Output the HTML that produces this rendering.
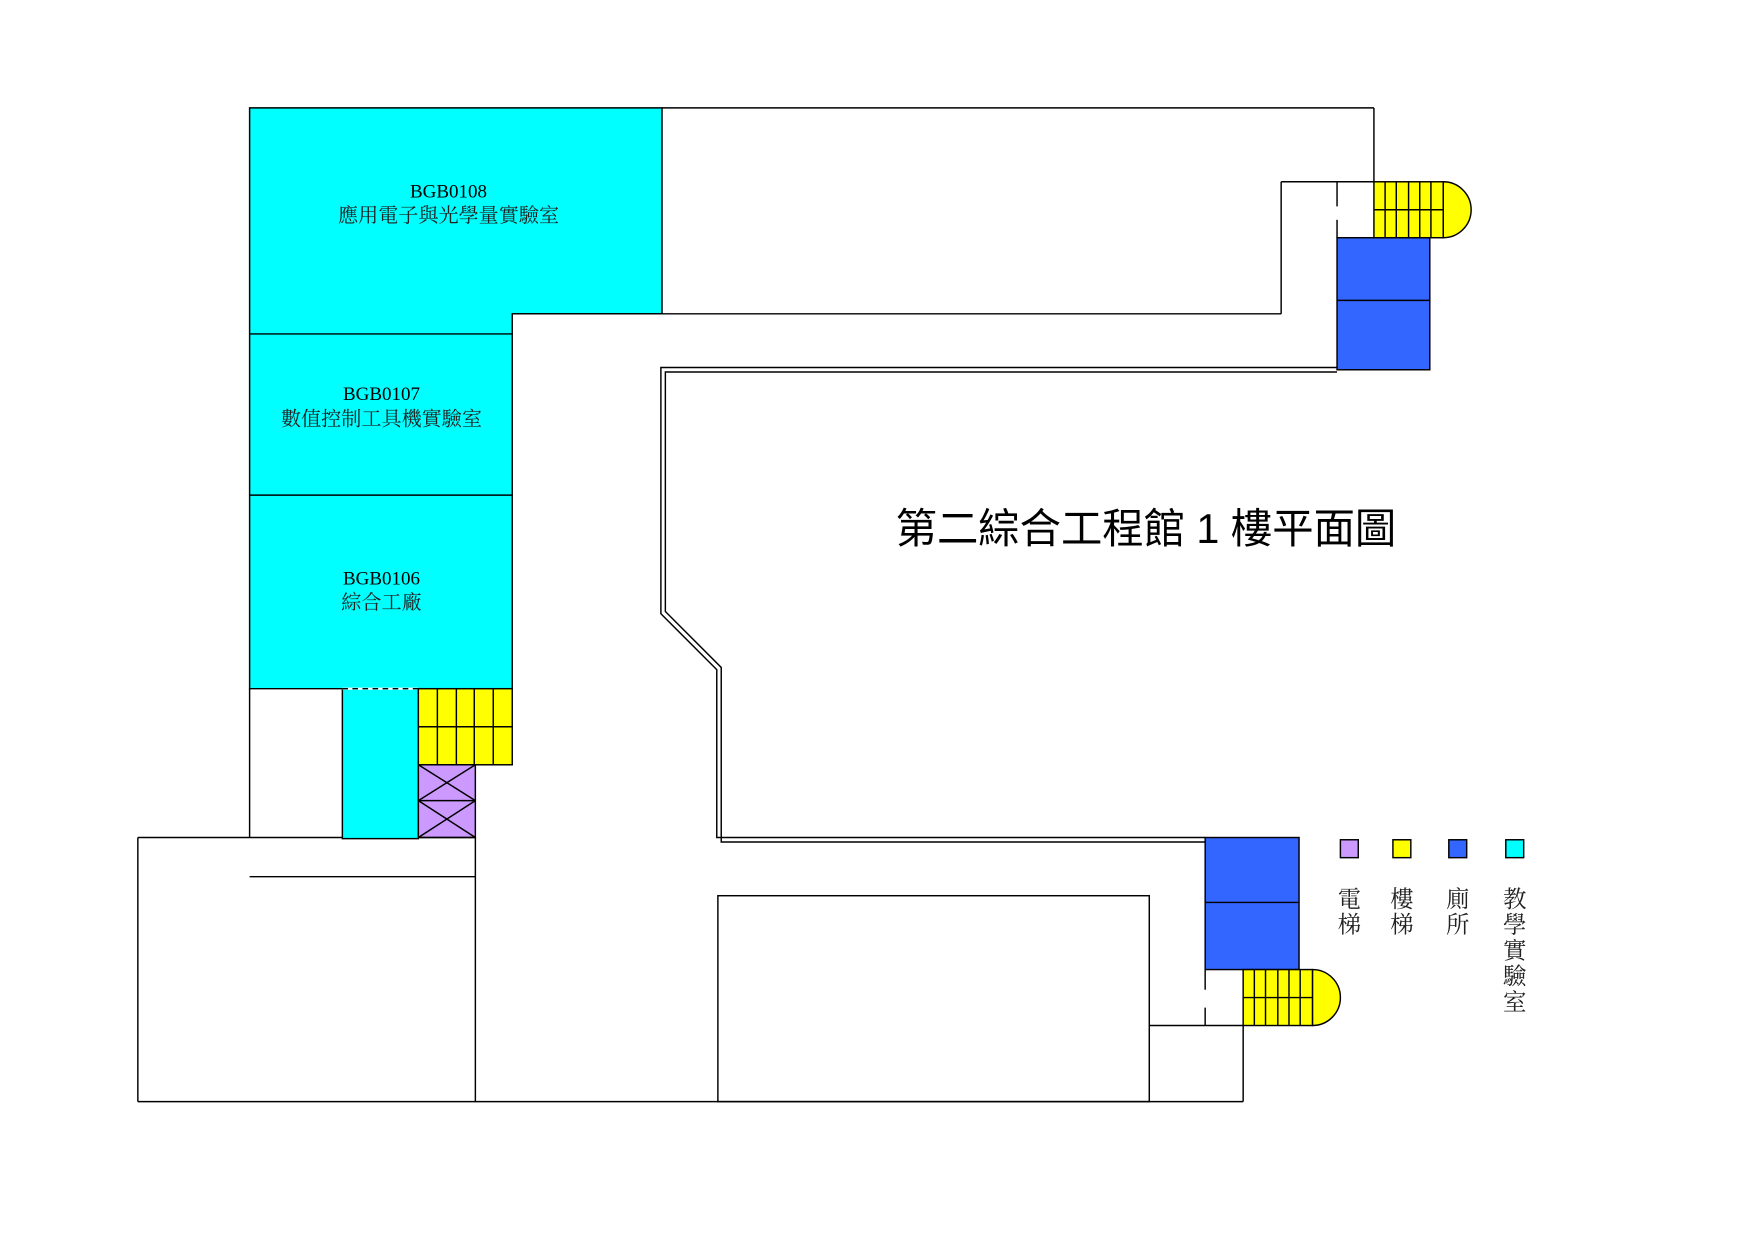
<!DOCTYPE html>
<html><head><meta charset="utf-8"><style>
html,body{margin:0;padding:0;background:#fff;}
svg{display:block;}
</style></head><body>
<svg width="1754" height="1241" viewBox="0 0 1560 1104" preserveAspectRatio="none" xmlns="http://www.w3.org/2000/svg">
<g transform="translate(1.33,0.43) scale(0.994,0.9955)">
<g stroke="#000" stroke-width="1.3" fill="none">
<path d="M222 96 H591 V280 H457 V615 H222 Z" fill="#00ffff"/>
<line x1="222" y1="298" x2="457" y2="298"/>
<line x1="222" y1="442" x2="457" y2="442"/>
<line x1="591" y1="96" x2="1228" y2="96"/>
<line x1="1228" y1="96" x2="1228" y2="162"/>
<line x1="1145" y1="162" x2="1228" y2="162"/>
<line x1="1145" y1="162" x2="1145" y2="280"/>
<line x1="457" y1="280" x2="1145" y2="280"/>
<path d="M1195 328 H590 V548 L640 598 V748 H1077" />
<path d="M1195 332 H594 V546 L644 596 V752 H1077" />
<line x1="1195" y1="162" x2="1195" y2="184"/>
<line x1="1195" y1="196" x2="1195" y2="212"/>
<rect x="1195" y="212" width="83" height="118" fill="#3366ff"/>
<line x1="1195" y1="268" x2="1278" y2="268"/>
<path d="M1290 162 A25 25 0 0 1 1290 212 Z" fill="#ffff00"/>
<rect x="1228" y="162" width="62" height="50" fill="#ffff00"/>
<line x1="1228" y1="187" x2="1290" y2="187"/>
<line x1="1238" y1="162" x2="1238" y2="212"/>
<line x1="1248" y1="162" x2="1248" y2="212"/>
<line x1="1259" y1="162" x2="1259" y2="212"/>
<line x1="1269" y1="162" x2="1269" y2="212"/>
<line x1="1279" y1="162" x2="1279" y2="212"/>
<line x1="222" y1="615" x2="222" y2="748"/>
<rect x="305" y="615" width="68" height="134" fill="#00ffff"/>
<line x1="305" y1="615" x2="373" y2="615" stroke="#fff" stroke-width="2"/>
<line x1="305" y1="615" x2="373" y2="615" stroke-dasharray="5,4"/>
<rect x="373" y="615" width="84" height="68" fill="#ffff00"/>
<line x1="373" y1="649" x2="457" y2="649"/>
<line x1="390" y1="615" x2="390" y2="683"/>
<line x1="407" y1="615" x2="407" y2="683"/>
<line x1="423" y1="615" x2="423" y2="683"/>
<line x1="440" y1="615" x2="440" y2="683"/>
<rect x="373" y="683" width="51" height="65" fill="#cc99ff"/>
<line x1="373" y1="715" x2="424" y2="715"/>
<path d="M373 683 L424 715 M424 683 L373 715 M373 715 L424 748 M424 715 L373 748"/>
<line x1="122" y1="748" x2="305" y2="748"/>
<line x1="373" y1="748" x2="424" y2="748"/>
<line x1="122" y1="748" x2="122" y2="984"/>
<line x1="222" y1="783" x2="424" y2="783"/>
<line x1="424" y1="748" x2="424" y2="984"/>
<line x1="122" y1="984" x2="1111" y2="984"/>
<rect x="641" y="800" width="386" height="184"/>
<rect x="1077" y="748" width="84" height="118" fill="#3366ff"/>
<line x1="1077" y1="806" x2="1161" y2="806"/>
<line x1="1077" y1="866" x2="1077" y2="884"/>
<line x1="1077" y1="900" x2="1077" y2="916"/>
<line x1="1027" y1="916" x2="1111" y2="916"/>
<line x1="1111" y1="916" x2="1111" y2="984"/>
<path d="M1173 866 A25 25 0 0 1 1173 916 Z" fill="#ffff00"/>
<rect x="1111" y="866" width="62" height="50" fill="#ffff00"/>
<line x1="1111" y1="891" x2="1173" y2="891"/>
<line x1="1121" y1="866" x2="1121" y2="916"/>
<line x1="1131" y1="866" x2="1131" y2="916"/>
<line x1="1142" y1="866" x2="1142" y2="916"/>
<line x1="1152" y1="866" x2="1152" y2="916"/>
<line x1="1162" y1="866" x2="1162" y2="916"/>
<rect x="1198" y="750" width="16" height="16" fill="#cc99ff"/>
<rect x="1245" y="750" width="16" height="16" fill="#ffff00"/>
<rect x="1295" y="750" width="16" height="16" fill="#3366ff"/>
<rect x="1346" y="750" width="16" height="16" fill="#00ffff"/>
</g>
<g font-family="Liberation Serif, Noto Serif CJK SC, serif" font-size="17" text-anchor="middle" fill="#000">
<text x="400" y="176">BGB0108</text>
<text x="400" y="198" font-family="Noto Serif CJK SC, serif" font-size="18" fill="#222">應用電子與光學量實驗室</text>
<text x="340" y="357">BGB0107</text>
<text x="340" y="380" font-family="Noto Serif CJK SC, serif" font-size="18" fill="#222">數值控制工具機實驗室</text>
<text x="340" y="522">BGB0106</text>
<text x="340" y="544" font-family="Noto Serif CJK SC, serif" font-size="18" fill="#222">綜合工廠</text>
</g>
<text x="1024" y="485" font-family="Liberation Sans, Noto Sans CJK TC, sans-serif" font-size="37" text-anchor="middle" fill="#000">第二綜合工程館 1 樓平面圖</text>
<g font-family="Noto Serif CJK SC, serif" font-size="21" fill="#222" text-anchor="middle">
<text x="1206" y="810">電</text><text x="1206" y="833">梯</text>
<text x="1253" y="810">樓</text><text x="1253" y="833">梯</text>
<text x="1303" y="810">廁</text><text x="1303" y="833">所</text>
<text x="1354" y="810">教</text><text x="1354" y="833">學</text><text x="1354" y="856">實</text><text x="1354" y="879">驗</text><text x="1354" y="902">室</text>
</g>
</g>
</svg>
</body></html>
